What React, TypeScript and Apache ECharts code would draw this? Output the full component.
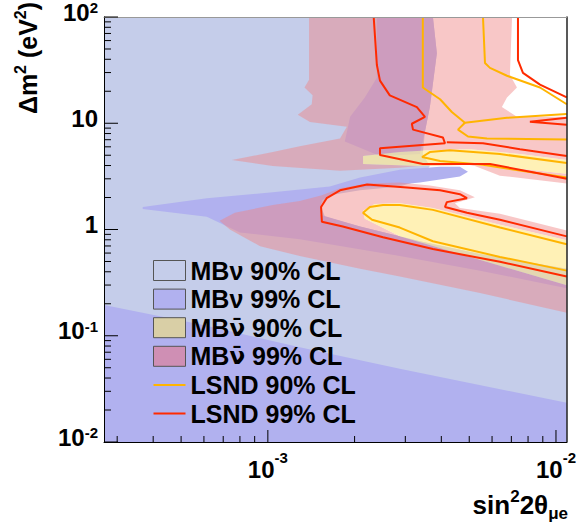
import React, { useEffect, useRef } from 'react';
import * as echarts from 'echarts';

type Pt = [number, number];

const X_MIN = 2.7e-4;
const X_MAX = 1.09e-2;
const Y_MIN = 0.01;
const Y_MAX = 100;

const xMajorTicks = [1e-3, 1e-2];
const xMinorTicks = [3e-4, 4e-4, 5e-4, 6e-4, 7e-4, 8e-4, 9e-4, 2e-3, 3e-3, 4e-3, 5e-3, 6e-3, 7e-3, 8e-3, 9e-3];
const yMajorTicks = [0.01, 0.1, 1, 10, 100];
const yMinorTicks = [
  0.02, 0.03, 0.04, 0.05, 0.06, 0.07, 0.08, 0.09,
  0.2, 0.3, 0.4, 0.5, 0.6, 0.7, 0.8, 0.9,
  2, 3, 4, 5, 6, 7, 8, 9,
  20, 30, 40, 50, 60, 70, 80, 90,
];

// MiniBooNE nu 90% CL region
const mbNu90Regions: Pt[][] = [[
  [2.7e-4, 100], [3.74e-3, 100], [3.86e-3, 45.6], [3.65e-3, 14.2], [3.51e-3, 8.35], [3.45e-3, 5.13],
  [3.65e-3, 3.97], [3.37e-3, 2.89], [2.87e-3, 2.54], [2.09e-3, 2.34], [1.64e-3, 2.1], [1.52e-3, 1.7],
  [1.58e-3, 1.32], [2.09e-3, 1.07], [3.37e-3, 0.775], [5.45e-3, 0.588], [1.09e-2, 0.428],
  [1.09e-2, 0.01], [2.7e-4, 0.01],
]];

// MiniBooNE nu 99% CL region
const mbNu99Regions: Pt[][] = [
  [[2.7e-4, 0.195], [5.8e-4, 0.128], [1.29e-3, 0.078], [2.87e-3, 0.049], [1.09e-2, 0.0234], [1.09e-2, 0.01], [2.7e-4, 0.01]],
  [[2.39e-3, 100], [3.74e-3, 100], [3.86e-3, 45.6], [3.65e-3, 14.2], [3.51e-3, 8.35], [3.37e-3, 5.13],
   [2.45e-3, 4.91], [1.85e-3, 6.75], [1.93e-3, 11.5], [2.17e-3, 17.5], [2.39e-3, 26.8]],
  [[3.68e-4, 1.63], [6.14e-4, 1.97], [1.04e-3, 2.24], [1.64e-3, 2.54], [2.09e-3, 3.08], [2.87e-3, 3.65],
   [3.96e-3, 3.89], [4.64e-3, 3.89], [4.95e-3, 3.5], [4.64e-3, 3.15], [3.37e-3, 2.77], [2.45e-3, 2.54],
   [1.78e-3, 2.39], [1.54e-3, 1.89], [1.52e-3, 1.375], [2.09e-3, 1.066], [3.37e-3, 0.775], [5.45e-3, 0.588],
   [1.09e-2, 0.428], [1.09e-2, 0.28], [5.45e-3, 0.41], [2.87e-3, 0.564], [1.29e-3, 0.809], [8.0e-4, 0.938],
   [6.14e-4, 1.32], [3.68e-4, 1.56]],
];

// MiniBooNE anti-nu 90% CL regions
const mbNuBar90Regions: Pt[][] = [
  [[2.14e-3, 4.91], [2.87e-3, 5.35], [3.65e-3, 5.58], [5.03e-3, 5.7], [7.5e-3, 5.13], [1.09e-2, 4.51],
   [1.09e-2, 3.35], [7.5e-3, 3.73], [5.03e-3, 4.06], [3.37e-3, 3.97], [2.14e-3, 4.14]],
  [[2.14e-3, 1.5], [2.35e-3, 1.74], [2.87e-3, 1.77], [3.74e-3, 1.595], [6.39e-3, 1.11], [1.09e-2, 0.792],
   [1.09e-2, 0.298], [6.39e-3, 0.456], [2.87e-3, 0.862], [2.17e-3, 1.262]],
];

// MiniBooNE anti-nu 99% CL regions (outer edges; the 90% regions are cut out)
const mbNuBar99Regions: Pt[][] = [
  [[1.39e-3, 100], [1.39e-3, 25.7], [1.34e-3, 21.7], [1.43e-3, 18.3], [1.42e-3, 15.1], [1.27e-3, 12.0],
   [1.4e-3, 10.3], [1.88e-3, 9.28], [1.78e-3, 7.2], [1.29e-3, 6.07], [1.04e-3, 5.35], [7.5e-4, 4.51],
   [1.04e-3, 3.97], [1.78e-3, 3.57], [2.87e-3, 3.81], [3.96e-3, 4.14], [4.64e-3, 4.23], [5.23e-3, 3.97],
   [6.39e-3, 3.21], [1.09e-2, 2.71], [1.09e-2, 11.5], [7.32e-3, 11.5], [6.49e-3, 14.2], [6.76e-3, 17.5],
   [7.32e-3, 21.7], [6.92e-3, 28.6], [7.04e-3, 100]],
  [[6.8e-4, 1.21], [7.68e-4, 1.435], [1.04e-3, 1.7], [1.29e-3, 1.85], [1.54e-3, 2.1], [1.78e-3, 2.44],
   [2.21e-3, 2.71], [2.87e-3, 2.77], [3.65e-3, 2.6], [4.64e-3, 2.34], [5.23e-3, 2.01], [4.46e-3, 1.77],
   [4.64e-3, 1.595], [6.39e-3, 1.405], [1.09e-2, 0.98], [1.09e-2, 0.165], [5.45e-3, 0.252], [2.87e-3, 0.361],
   [2.09e-3, 0.428], [1.29e-3, 0.564], [9.4e-4, 0.697], [7.38e-4, 1.0]],
];
const mbNuBar99Holes: Pt[][][] = [[mbNuBar90Regions[0]], [mbNuBar90Regions[1]]];

// LSND 90% CL contours
const lsnd90Lines: Pt[][] = [
  [[1.09e-2, 12.23], [6.76e-3, 11.24], [4.83e-3, 10.11], [4.35e-3, 12.76], [3.96e-3, 16.81], [3.45e-3, 21.69], [3.45e-3, 100]],
  [[4.83e-3, 10.11], [4.57e-3, 8.71], [4.95e-3, 7.51], [5.76e-3, 7.2], [1.09e-2, 7.05]],
  [[5.58e-3, 100], [5.67e-3, 36.9], [5.9e-3, 33.2], [6.76e-3, 28.0], [8.8e-3, 21.7], [1.09e-2, 15.1]],
  [[1.09e-2, 4.23], [6.39e-3, 5.13], [4.28e-3, 5.58], [3.65e-3, 5.35], [3.43e-3, 4.81], [3.96e-3, 4.42], [5.58e-3, 4.06], [1.09e-2, 3.08]],
  [[1.09e-2, 0.727], [6.39e-3, 1.043], [3.74e-3, 1.53], [2.87e-3, 1.7], [2.51e-3, 1.7], [2.26e-3, 1.63], [2.14e-3, 1.435],
   [2.3e-3, 1.236], [2.87e-3, 1.043], [3.74e-3, 0.775], [6.39e-3, 0.552], [1.09e-2, 0.41]],
];

// LSND 99% CL contours
const lsnd99Lines: Pt[][] = [
  [[2.33e-3, 100], [2.39e-3, 35.35], [2.45e-3, 25.17], [2.65e-3, 18.31], [3.29e-3, 14.19], [3.51e-3, 11.48], [3.16e-3, 9.89],
   [3.19e-3, 8.71], [4.05e-3, 7.35], [4.12e-3, 6.47], [2.45e-3, 5.82], [2.45e-3, 5.02], [3.45e-3, 4.14], [5.9e-3, 4.14], [1.09e-2, 3.01]],
  [[7.38e-3, 100], [7.38e-3, 39.3], [7.68e-3, 29.82], [8.8e-3, 23.11], [1.09e-2, 17.54]],
  [[1.09e-2, 4.91], [7.5e-3, 5.7], [5.58e-3, 6.47], [4.18e-3, 6.61]],
  [[1.09e-2, 11.24], [8.12e-3, 10.32], [1.09e-2, 9.69]],
  [[1.09e-2, 0.862], [6.39e-3, 1.236], [4.91e-3, 1.435], [4.12e-3, 1.63], [4.18e-3, 1.81], [4.91e-3, 1.97], [4.64e-3, 2.15],
   [3.96e-3, 2.34], [3.04e-3, 2.49], [2.21e-3, 2.65], [1.78e-3, 2.34], [1.6e-3, 1.97], [1.53e-3, 1.63], [1.54e-3, 1.185],
   [1.82e-3, 1.066], [2.51e-3, 0.844], [3.74e-3, 0.654], [6.39e-3, 0.497], [1.09e-2, 0.361]],
];

const NAMES = {
  nu90: 'MB\u03BD 90% CL',
  nu99: 'MB\u03BD 99% CL',
  nubar90: 'MB\u03BD\u0304 90% CL',
  nubar99: 'MB\u03BD\u0304 99% CL',
  l90: 'LSND 90% CL',
  l99: 'LSND 99% CL',
};

const FONT = "'Liberation Sans', Arial, Helvetica, sans-serif";
const C_BG = '#c5cdea';
const C_PURPLE = '#b1b1ef';
const C_PINK = 'rgba(240,130,130,0.45)';
const C_YELLOW = 'rgba(255,233,143,0.65)';
const C_L90 = '#ffb400';
const C_L99 = '#ff2a00';

function signedArea(pts: number[][]) {
  let s = 0;
  for (let i = 0; i < pts.length; i++) {
    const p = pts[i];
    const q = pts[(i + 1) % pts.length];
    s += p[0] * q[1] - q[0] * p[1];
  }
  return s;
}

function toPath(pts: number[][]) {
  return 'M' + pts.map((p) => p[0].toFixed(2) + ' ' + p[1].toFixed(2)).join(' L') + ' Z ';
}

function polySeries(name: string, polys: Pt[][], fill: string, z: number, holes?: Pt[][][]) {
  return {
    type: 'custom',
    name,
    coordinateSystem: 'cartesian2d',
    clip: true,
    silent: true,
    z,
    data: polys.map((p, i) => [p[0][0], p[0][1], i]),
    encode: { x: 0, y: 1 },
    itemStyle: { color: fill },
    renderItem: (params: any, api: any) => {
      const outer = polys[params.dataIndex].map((pt) => api.coord(pt));
      const hs = holes ? holes[params.dataIndex] || [] : [];
      if (!hs.length) {
        return { type: 'polygon', shape: { points: outer }, style: { fill, stroke: null } };
      }
      const sign = Math.sign(signedArea(outer));
      let d = toPath(outer);
      hs.forEach((h) => {
        let hp = h.map((pt) => api.coord(pt));
        if (Math.sign(signedArea(hp)) === sign) hp = hp.slice().reverse();
        d += toPath(hp);
      });
      return { type: 'path', shape: { pathData: d }, style: { fill, stroke: null } };
    },
  };
}

function lineSeries(name: string, lines: Pt[][], color: string) {
  return lines.map((l) => ({
    type: 'line',
    name,
    data: l,
    symbol: 'none',
    showSymbol: false,
    silent: true,
    clip: true,
    z: 6,
    lineStyle: { color, width: 2 },
    itemStyle: { color },
  }));
}

const tb = { fontWeight: 'bold', fontFamily: FONT, color: '#000' };
const yLabelRich = {
  b: { ...tb, fontSize: 24, lineHeight: 34, verticalAlign: 'middle', padding: [0, 0, 10, 0] },
  s: { ...tb, fontSize: 15, lineHeight: 15, verticalAlign: 'top' },
  bt: { ...tb, fontSize: 24, lineHeight: 34, verticalAlign: 'middle', padding: [0, 0, 10, 0] },
};
const xLabelRich = {
  b: { ...tb, fontSize: 24, lineHeight: 38, verticalAlign: 'middle' },
  s: { ...tb, fontSize: 15, lineHeight: 15, verticalAlign: 'top' },
};

function powLabel(v: number) {
  const e = Math.log10(v);
  const r = Math.round(e);
  if (Math.abs(e - r) > 1e-6) return '';
  if (r === 0) return '{b|1}';
  if (r === 1) return '{b|10}';
  if (r === 2) return '{bt|10}{s|2}';
  return '{b|10}{s|' + r + '}';
}

function legendFormatter(name: string) {
  if (name.indexOf('\u0304') >= 0) {
    const rest = name.slice(name.indexOf('\u0304') + 1);
    return '{a|MB}{nb|\u03BD\u0304}{a|' + rest + '}';
  }
  return '{a|' + name + '}';
}

function buildOption() {
  const xTickData = [...xMajorTicks.map((v) => [v, Y_MIN, 1]), ...xMinorTicks.map((v) => [v, Y_MIN, 0])];
  const yTickData = [...yMajorTicks.map((v) => [X_MIN, v, 1]), ...yMinorTicks.map((v) => [X_MIN, v, 0])];
  const titleRich = {
    b: { ...tb, fontSize: 25, lineHeight: 32, verticalAlign: 'middle' },
    sup: { ...tb, fontSize: 16, lineHeight: 16, verticalAlign: 'top' },
    sub: { ...tb, fontSize: 16, lineHeight: 16, verticalAlign: 'bottom' },
  };
  const xTitleRich = {
    b: { ...tb, fontSize: 26, lineHeight: 34, verticalAlign: 'middle' },
    sup: { ...tb, fontSize: 17, lineHeight: 17, verticalAlign: 'top' },
    sub: { ...tb, fontSize: 17, lineHeight: 17, verticalAlign: 'bottom' },
  };
  const lineIcon = 'path://M0,0 L32,0 L32,2 L0,2 Z';
  return {
    animation: false,
    backgroundColor: '#ffffff',
    grid: { left: 104, top: 8, width: 463, height: 434, show: false },
    xAxis: [
      {
        type: 'log', logBase: 10, min: X_MIN, max: X_MAX, position: 'bottom', z: 10,
        axisLine: { show: true, lineStyle: { color: '#000', width: 1 } },
        axisTick: { show: false }, splitLine: { show: false }, minorTick: { show: false },
        axisLabel: { show: true, margin: 8, formatter: powLabel, rich: xLabelRich },
      },
      {
        type: 'log', logBase: 10, min: X_MIN, max: X_MAX, position: 'top', z: 10,
        axisLine: { show: true, lineStyle: { color: '#999', width: 1 } },
        axisTick: { show: false }, splitLine: { show: false }, axisLabel: { show: false },
      },
    ],
    yAxis: [
      {
        type: 'log', logBase: 10, min: Y_MIN, max: Y_MAX, position: 'left', z: 10,
        axisLine: { show: true, lineStyle: { color: '#000', width: 1 } },
        axisTick: { show: false }, splitLine: { show: false }, minorTick: { show: false },
        axisLabel: { show: true, margin: 6, formatter: powLabel, rich: yLabelRich },
      },
      {
        type: 'log', logBase: 10, min: Y_MIN, max: Y_MAX, position: 'right', z: 10,
        axisLine: { show: true, lineStyle: { color: '#222', width: 1.5 } },
        axisTick: { show: false }, splitLine: { show: false }, axisLabel: { show: false },
      },
    ],
    legend: {
      show: true,
      selectedMode: false,
      orient: 'vertical',
      left: 153,
      top: 258,
      padding: 0,
      itemWidth: 32,
      itemHeight: 20,
      itemGap: 3.6,
      formatter: legendFormatter,
      textStyle: {
        padding: [0, 0, 0, 0],
        rich: {
          a: { ...tb, fontSize: 25, lineHeight: 20 },
          nb: { fontWeight: 'bold', fontFamily: "'DejaVu Sans', sans-serif", color: '#000', fontSize: 23, lineHeight: 20 },
        },
      },
      data: [
        { name: NAMES.nu90, icon: 'rect', itemStyle: { color: C_BG, borderColor: '#555', borderWidth: 1 } },
        { name: NAMES.nu99, icon: 'rect', itemStyle: { color: C_PURPLE, borderColor: '#555', borderWidth: 1 } },
        { name: NAMES.nubar90, icon: 'rect', itemStyle: { color: '#d9cfa6', borderColor: '#555', borderWidth: 1 } },
        { name: NAMES.nubar99, icon: 'rect', itemStyle: { color: '#cf8fb4', borderColor: '#555', borderWidth: 1 } },
        { name: NAMES.l90, icon: lineIcon, itemStyle: { color: C_L90, borderWidth: 0 } },
        { name: NAMES.l99, icon: lineIcon, itemStyle: { color: C_L99, borderWidth: 0 } },
      ],
    },
    graphic: [
      {
        type: 'text',
        x: 28,
        y: 58,
        rotation: Math.PI / 2,
        z: 20,
        style: {
          text: '{b|\u0394m}{sup|2}{b| (eV}{sup|2}{b|)}',
          rich: titleRich,
          align: 'center', verticalAlign: 'middle',
          textAlign: 'center', textVerticalAlign: 'middle',
        },
      },
      {
        type: 'text',
        x: 568,
        y: 505,
        z: 20,
        style: {
          text: '{b|sin}{sup|2}{b|2\u03B8}{sub|\u03BCe}',
          rich: xTitleRich,
          align: 'right', verticalAlign: 'middle',
          textAlign: 'right', textVerticalAlign: 'middle',
        },
      },
    ],
    series: [
      polySeries(NAMES.nu90, mbNu90Regions, C_BG, 1),
      polySeries(NAMES.nu99, mbNu99Regions, C_PURPLE, 2),
      polySeries(NAMES.nubar99, mbNuBar99Regions, C_PINK, 3, mbNuBar99Holes),
      polySeries(NAMES.nubar90, mbNuBar90Regions, C_YELLOW, 4),
      ...lineSeries(NAMES.l90, lsnd90Lines, C_L90),
      ...lineSeries(NAMES.l99, lsnd99Lines, C_L99),
      {
        type: 'custom', silent: true, z: 20, clip: false,
        data: xTickData, encode: { x: 0, y: 1 },
        renderItem: (params: any, api: any) => {
          const p = api.coord([api.value(0), api.value(1)]);
          const len = api.value(2) ? 12 : 6;
          return { type: 'line', shape: { x1: p[0], y1: p[1], x2: p[0], y2: p[1] - len }, style: { stroke: '#000', lineWidth: 1 } };
        },
      },
      {
        type: 'custom', silent: true, z: 20, clip: false,
        data: yTickData, encode: { x: 0, y: 1 },
        renderItem: (params: any, api: any) => {
          const p = api.coord([api.value(0), api.value(1)]);
          const len = api.value(2) ? 14 : 7;
          return { type: 'line', shape: { x1: p[0], y1: p[1], x2: p[0] + len, y2: p[1] }, style: { stroke: '#000', lineWidth: 1 } };
        },
      },
    ],
  };
}

export default function App() {
  const ref = useRef<HTMLDivElement>(null);
  useEffect(() => {
    const chart = echarts.init(ref.current as HTMLDivElement, null, { renderer: 'svg' });
    chart.setOption(buildOption() as any);
    return () => chart.dispose();
  }, []);
  return (
    <div
      ref={ref}
      style={{ position: 'fixed', left: 0, top: 0, width: 579, height: 529, background: '#fff' }}
    />
  );
}
